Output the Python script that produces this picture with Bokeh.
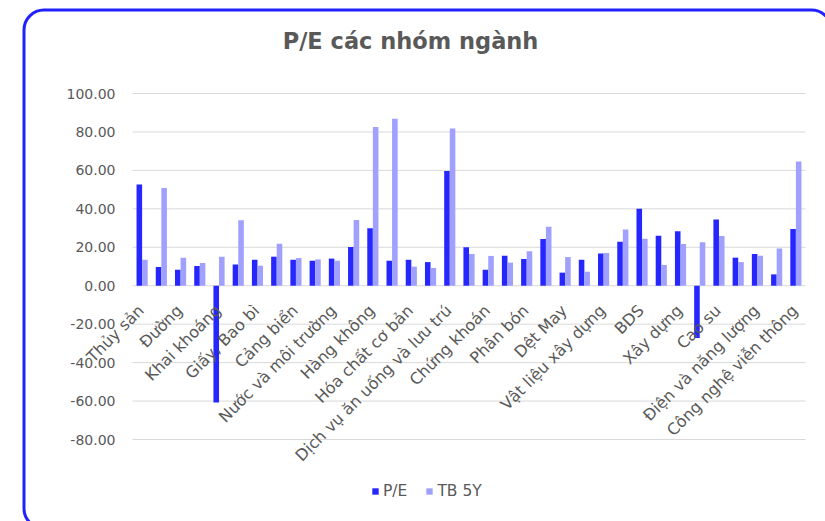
import math
from bokeh.plotting import figure
from bokeh.models import (ColumnDataSource, Range1d, LabelSet, Label, Legend, LegendItem,
                          BoxAnnotation)
from bokeh.core.properties import value
from bokeh.transform import dodge
from bokeh.embed import file_html
from bokeh.resources import INLINE

# ---- data ----
tick_labels = ["Thủy sản", "Đường", "Khai khoáng", "Giấy, Bao bì", "Cảng biển",
               "Nước và môi trường", "Hàng không", "Hóa chất cơ bản",
               "Dịch vụ ăn uống và lưu trú", "Chứng khoán", "Phân bón", "Dệt May",
               "Vật liệu xây dựng", "BDS", "Xây dựng", "Cao su",
               "Điện và năng lượng", "Công nghệ viễn thông"]
pe = [52.6, 9.7, 8.3, 10.2, -60.8, 11.1, 13.5, 15.1, 13.5, 13.0, 14.1, 20.1, 29.9,
      13.0, 13.5, 12.3, 59.7, 20.0, 8.3, 15.6, 13.9, 24.3, 6.8, 13.5, 16.7, 22.9,
      40.1, 26.0, 28.3, -27.2, 34.4, 14.6, 16.5, 5.9, 29.5]
tb5y = [13.5, 50.9, 14.6, 11.8, 15.1, 34.0, 10.4, 21.9, 14.4, 13.7, 13.0, 34.2, 82.6,
        86.8, 9.9, 9.2, 81.8, 16.5, 15.5, 12.0, 17.9, 30.7, 14.9, 7.3, 17.0, 29.2,
        24.5, 10.8, 21.7, 22.6, 25.9, 12.3, 15.6, 19.4, 64.6]
y_ticks = [-80, -60, -40, -20, 0, 20, 40, 60, 80, 100]

n = len(pe)
idx = list(range(n))
src = ColumnDataSource(dict(x=idx, pe=pe, tb=tb5y))
lab_src = ColumnDataSource(dict(x=idx[::2], y=[0] * len(tick_labels), text=tick_labels))
ytick_src = ColumnDataSource(dict(y=y_ticks, text=[f"{v:.2f}" for v in y_ticks],
                                  x0=[-0.5] * len(y_ticks), x1=[n - 0.5] * len(y_ticks)))

GRAY = "#595959"
FONT = "DejaVu Sans"
C_PE = "#2626ff"
C_TB = "#a0a0ff"

# layout: plot area in pixels (canvas 825x521)
W, H = 825, 521
PL, PR, PT, PB = 132, 805, 93, 439
YMIN, YMAX = -80, 100
sx = (PR - PL) / n
sy = (PB - PT) / (YMAX - YMIN)
x_range = Range1d(-0.5 - PL / sx, n - 0.5 + (W - PR) / sx)
y_range = Range1d(YMIN - (H - PB) / sy, YMAX + PT / sy)

p = figure(width=W, height=H, output_backend="svg", toolbar_location=None,
           x_range=x_range, y_range=y_range, x_axis_location=None, y_axis_location=None,
           title=None, min_border=0)
p.outline_line_color = None
p.grid.visible = False
p.background_fill_color = "white"
p.border_fill_color = "white"

# gridlines at the tick values
p.segment(x0="x0", x1="x1", y0="y", y1="y", source=ytick_src, line_color="#d9d9d9",
          line_width=1)

r1 = p.vbar(x=dodge("x", -0.145, range=p.x_range), top="pe", width=0.29, source=src,
            fill_color=C_PE, line_color=None)
r2 = p.vbar(x=dodge("x", 0.145, range=p.x_range), top="tb", width=0.29, source=src,
            fill_color=C_TB, line_color=None)

# y tick labels
p.add_layout(LabelSet(x="x0", y="y", text="text", source=ytick_src, x_offset=-17,
                      text_align="right", text_baseline="middle",
                      text_font=value(FONT), text_font_size="14px", text_color=GRAY))

# x category labels (every second category)
p.add_layout(LabelSet(x="x", y="y", text="text", source=lab_src, angle=math.pi / 4,
                      text_align="right", text_baseline="middle", x_offset=-1, y_offset=-22,
                      text_font=value(FONT), text_font_size="16px", text_color=GRAY))

p.add_layout(Label(x=410, y=40, x_units="canvas", y_units="canvas",
                   text="P/E các nhóm ngành", text_align="center",
                   text_baseline="alphabetic", text_font=FONT, text_font_size="22.5px",
                   text_font_style="bold", text_color=GRAY))

p.add_layout(BoxAnnotation(left=23.5, right=831, top=9.5, bottom=528,
                           left_units="canvas", right_units="canvas",
                           top_units="canvas", bottom_units="canvas",
                           fill_color=None, fill_alpha=0, line_color="#2121ff",
                           line_width=3, line_alpha=1, border_radius=20))

legend = Legend(items=[LegendItem(label="P/E", renderers=[r1]),
                       LegendItem(label="TB 5Y", renderers=[r2])],
                location=(371, 21), orientation="horizontal",
                label_text_font=FONT, label_text_font_size="15.5px", label_text_color=GRAY,
                glyph_width=8, glyph_height=8, label_standoff=4, spacing=18,
                padding=0, margin=0, border_line_color=None, background_fill_alpha=0)
p.add_layout(legend)

open("out.html", "w").write(file_html(p, INLINE))
